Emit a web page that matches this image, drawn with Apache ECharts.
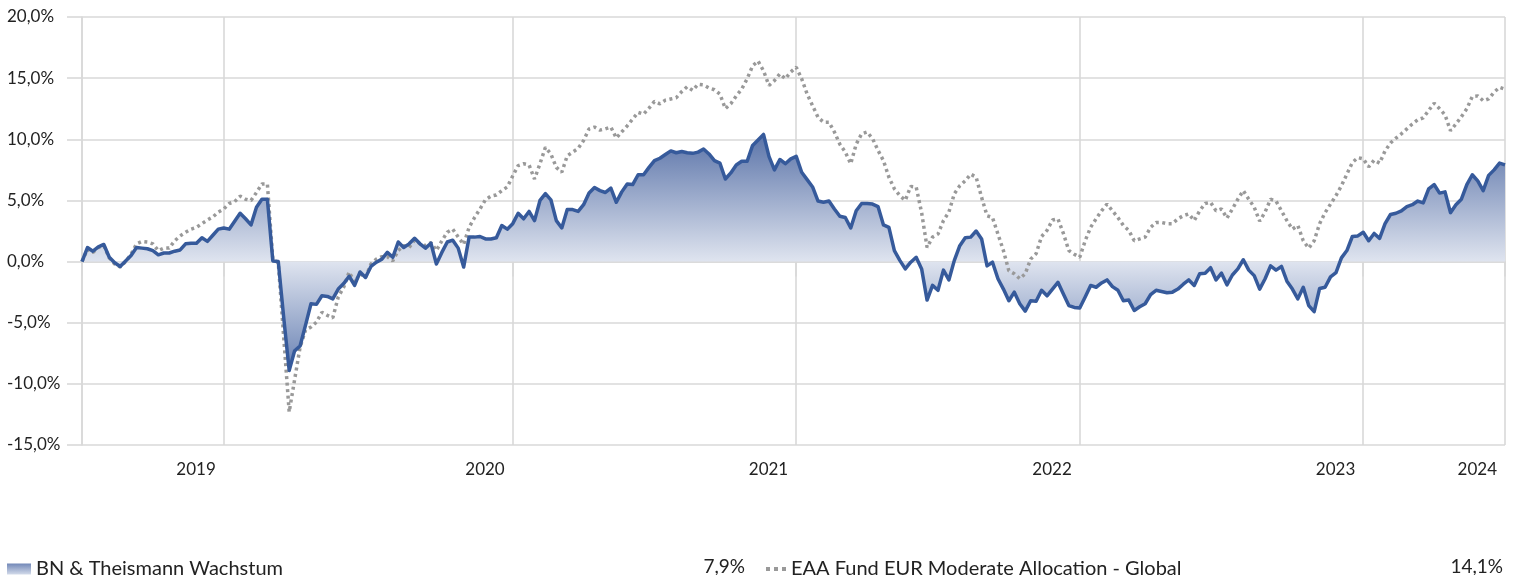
<!DOCTYPE html>
<html><head><meta charset="utf-8">
<script src="https://cdn.jsdelivr.net/npm/echarts@6/dist/echarts.min.js"></script>
<style>html,body{margin:0;padding:0;background:#fff}#c{width:1515px;height:575px}</style>
</head><body><div id="c"></div>
<script>
const seriesNames = ['BN & Theismann Wachstum', 'EAA Fund EUR Moderate Allocation - Global'];
const startDate = Date.UTC(2019, 5, 27); // first weekly observation
const weekMs = 7 * 86400000;

const fundValues = [
 0.0, 1.15, 0.85, 1.2, 1.4, 0.35, -0.1, -0.4, 0.05, 0.5,
 1.15, 1.1, 1.05, 0.9, 0.55, 0.7, 0.7, 0.85, 0.95, 1.45,
 1.5, 1.5, 1.95, 1.65, 2.15, 2.65, 2.75, 2.65, 3.3, 3.95,
 3.5, 3.0, 4.45, 5.1, 5.1, 0.05, 0.0, -4.6, -8.9, -7.3,
 -6.9, -5.2, -3.45, -3.5, -2.8, -2.85, -3.05, -2.25, -1.8, -1.2,
 -1.95, -0.85, -1.3, -0.4, -0.05, 0.2, 0.75, 0.35, 1.6, 1.15,
 1.45, 1.9, 1.45, 1.1, 1.5, -0.2, 0.75, 1.6, 1.75, 1.1,
 -0.45, 2.0, 2.0, 2.05, 1.85, 1.85, 1.95, 2.95, 2.65, 3.1,
 3.95, 3.5, 4.1, 3.35, 5.0, 5.55, 5.05, 3.35, 2.75, 4.25,
 4.25, 4.1, 4.65, 5.6, 6.05, 5.8, 5.65, 6.0, 4.85, 5.7,
 6.35, 6.3, 7.1, 7.1, 7.7, 8.25, 8.45, 8.75, 9.05, 8.9,
 9.0, 8.9, 8.85, 8.95, 9.2, 8.8, 8.25, 8.05, 6.75, 7.25,
 7.9, 8.2, 8.2, 9.5, 9.95, 10.4, 8.6, 7.5, 8.35, 8.0,
 8.4, 8.6, 7.3, 6.7, 6.1, 4.95, 4.85, 4.95, 4.3, 3.7,
 3.6, 2.75, 4.15, 4.75, 4.75, 4.7, 4.5, 3.0, 2.8, 0.9,
 0.1, -0.6, -0.05, 0.35, -0.6, -3.15, -1.95, -2.35, -0.7, -1.5,
 0.1, 1.3, 1.95, 2.0, 2.5, 1.85, -0.35, -0.05, -1.4, -2.25,
 -3.2, -2.5, -3.45, -4.05, -3.2, -3.25, -2.35, -2.8, -2.25, -1.7,
 -2.65, -3.6, -3.75, -3.8, -2.9, -1.95, -2.1, -1.75, -1.5, -2.05,
 -2.35, -3.2, -3.15, -4.0, -3.7, -3.45, -2.7, -2.35, -2.45, -2.55,
 -2.5, -2.25, -1.85, -1.5, -1.95, -1.0, -0.95, -0.5, -1.5, -0.95,
 -1.9, -1.1, -0.6, 0.15, -0.7, -1.15, -2.25, -1.4, -0.35, -0.7,
 -0.4, -1.6, -2.25, -3.05, -2.1, -3.6, -4.1, -2.2, -2.1, -1.25,
 -0.9, 0.3, 0.9, 2.05, 2.1, 2.4, 1.7, 2.3, 1.9, 3.1,
 3.85, 3.95, 4.15, 4.5, 4.65, 4.95, 4.8, 5.95, 6.3, 5.6,
 5.7, 4.0, 4.65, 5.1, 6.3, 7.1, 6.6, 5.8, 7.05, 7.5,
 8.05, 7.9
];

const benchValues = [
 0.0, 1.0, 0.75, 1.15, 1.3, 0.3, -0.2, -0.45, 0.0, 0.6,
 1.45, 1.65, 1.6, 1.45, 0.9, 1.1, 1.1, 1.7, 2.1, 2.4,
 2.65, 2.8, 3.1, 3.4, 3.65, 4.05, 4.3, 4.75, 4.9, 5.35,
 5.1, 5.0, 5.65, 6.35, 6.35, 0.2, -0.1, -6.2, -12.3, -9.65,
 -7.0, -5.6, -5.35, -4.95, -4.15, -4.4, -4.6, -2.9, -2.1, -0.85,
 -1.7, -1.0, -1.3, -0.2, 0.2, 0.4, 0.4, 0.05, 0.9, 1.3,
 1.15, 1.75, 1.45, 1.3, 1.55, 0.9, 1.7, 2.4, 2.65, 2.0,
 1.4, 2.8, 3.6, 4.3, 5.05, 5.35, 5.45, 5.8, 6.1, 7.0,
 7.85, 8.0, 7.9, 6.75, 8.0, 9.35, 8.8, 7.7, 7.3, 8.65,
 8.95, 9.25, 9.9, 10.85, 11.0, 10.75, 10.85, 11.0, 10.1, 10.6,
 11.1, 11.65, 12.2, 12.05, 12.55, 13.1, 12.9, 13.2, 13.3, 13.4,
 13.9, 14.3, 14.0, 14.5, 14.45, 14.2, 14.05, 13.7, 12.5, 12.9,
 13.55, 14.1, 14.95, 16.0, 16.4, 15.6, 14.4, 14.8, 15.35, 14.95,
 15.5, 15.9, 14.95, 13.7, 12.75, 11.8, 11.4, 11.4, 10.6, 9.6,
 8.95, 8.0, 9.6, 10.45, 10.6, 10.05, 9.1, 8.25, 6.9, 5.95,
 5.4, 5.0, 6.15, 6.1, 4.0, 1.15, 2.0, 2.25, 3.35, 4.05,
 5.55, 6.2, 6.6, 7.15, 6.9, 5.25, 3.75, 3.6, 2.25, 0.9,
 -0.75, -1.0, -1.4, -1.0, 0.2, 0.65, 2.05, 2.55, 3.4, 3.5,
 2.3, 0.9, 0.6, 0.35, 1.7, 2.8, 3.5, 4.15, 4.7, 4.15,
 3.6, 2.95, 2.55, 1.7, 1.85, 2.0, 2.8, 3.2, 3.2, 3.1,
 3.1, 3.5, 3.75, 3.9, 3.35, 4.15, 4.75, 4.85, 4.15, 4.3,
 3.55, 4.3, 5.1, 5.8, 5.1, 4.45, 3.3, 4.05, 5.1, 4.95,
 4.15, 3.35, 2.65, 2.95, 1.7, 1.1, 1.7, 3.1, 4.0, 4.7,
 5.4, 6.2, 7.15, 8.1, 8.5, 8.4, 7.75, 8.3, 8.05, 9.05,
 9.7, 10.1, 10.45, 10.85, 11.25, 11.6, 11.75, 12.35, 12.95, 12.5,
 12.0, 10.7, 11.25, 11.85, 12.5, 13.5, 13.55, 13.15, 13.3, 13.85,
 14.25, 14.1
];

const yAxisMin = -15, yAxisMax = 20, yAxisStep = 5;

const categories = fundValues.map((_, i) => new Date(startDate + i * weekMs).toISOString().slice(0, 10));
const lastIdx = categories.length - 1;
const yearOf = (i) => categories[i].slice(0, 4);
const isYearEnd = (i) => i < lastIdx && yearOf(i) !== yearOf(i + 1);
const isTick = (i) => i === 0 || i === lastIdx || isYearEnd(i);
const isLabel = (i) => i === lastIdx || isYearEnd(i);
const pct = (v) => v.toFixed(1).replace('.', ',') + '%';

const FONT = 'Lato, "Open Sans", sans-serif';
const GRIDC = '#d9d9d9';
const BLUE = '#365a9b';
const GRAY = '#999999';

const areaGrad = new echarts.graphic.LinearGradient(0, 0, 0, 1, [
  { offset: 0, color: '#5b74a9' },
  { offset: 0.539, color: '#dfe4ef' },
  { offset: 1, color: '#6881b3' }
]);
const iconGrad = new echarts.graphic.LinearGradient(0, 0, 0, 1, [
  { offset: 0, color: '#7288b8' },
  { offset: 1, color: '#d3dbea' }
]);

const chart = echarts.init(document.getElementById('c'), null, { renderer: 'canvas' });
chart.setOption({
  animation: false,
  backgroundColor: '#fff',
  grid: { left: 82, right: 10, top: 17, bottom: 130, containLabel: false },
  xAxis: {
    type: 'category',
    data: categories,
    boundaryGap: false,
    axisLine: { show: true, lineStyle: { color: GRIDC, width: 1.6 } },
    axisTick: { show: true, length: 15, interval: (i) => isTick(i), lineStyle: { color: GRIDC, width: 1.6 } },
    splitLine: { show: true, interval: (i) => isTick(i), lineStyle: { color: GRIDC, width: 1.6 } },
    axisLabel: {
      interval: (i) => isLabel(i),
      formatter: (v) => v.slice(0, 4),
      align: 'right',
      padding: [0, 8, 0, 0],
      margin: 16,
      color: '#222',
      fontFamily: FONT,
      fontSize: 17
    }
  },
  yAxis: {
    type: 'value',
    min: yAxisMin, max: yAxisMax, interval: yAxisStep,
    axisLine: { show: true, lineStyle: { color: GRIDC, width: 1.6 } },
    axisTick: { show: true, length: 15, lineStyle: { color: GRIDC, width: 1.6 } },
    splitLine: { show: true, lineStyle: { color: GRIDC, width: 1.6 } },
    axisLabel: {
      formatter: (v) => pct(v),
      align: 'left',
      margin: 75,
      color: '#222',
      fontFamily: FONT,
      fontSize: 17
    }
  },
  legend: [
    {
      left: 2, top: 554, itemWidth: 24, itemHeight: 11, itemGap: 0, selectedMode: false,
      textStyle: { fontFamily: FONT, fontSize: 20, color: '#222' },
      data: [{ name: seriesNames[0], icon: 'rect', itemStyle: { color: iconGrad, borderWidth: 0 } }]
    },
    {
      left: 761, top: 554, itemWidth: 20, itemHeight: 4, itemGap: 0, selectedMode: false,
      textStyle: { fontFamily: FONT, fontSize: 20, color: '#222' },
      data: [{ name: seriesNames[1], icon: 'path://M0,0h4v4h-4z M8,0h4v4h-4z M16,0h4v4h-4z', itemStyle: { color: GRAY, borderWidth: 0 } }]
    }
  ],
  graphic: [
    { type: 'text', x: 745, y: 567, style: { text: pct(fundValues[lastIdx]), align: 'right', verticalAlign: 'middle', font: '19px ' + FONT, fill: '#222' } },
    { type: 'text', x: 1503, y: 567, style: { text: pct(benchValues[lastIdx]), align: 'right', verticalAlign: 'middle', font: '19px ' + FONT, fill: '#222' } }
  ],
  series: [
    {
      name: seriesNames[0], type: 'line', data: fundValues, symbol: 'none',
      lineStyle: { width: 0, opacity: 0 }, areaStyle: { color: areaGrad, origin: 0, opacity: 1 },
      z: 1
    },
    {
      name: seriesNames[1], type: 'line', data: benchValues, symbol: 'none',
      lineStyle: { color: GRAY, width: 3.5, type: [3, 3.5], cap: 'butt' },
      itemStyle: { color: GRAY },
      z: 2
    },
    {
      name: seriesNames[0], type: 'line', data: fundValues, symbol: 'none',
      lineStyle: { color: BLUE, width: 3.5, join: 'round' },
      itemStyle: { color: BLUE },
      z: 3
    }
  ]
});
</script></body></html>
